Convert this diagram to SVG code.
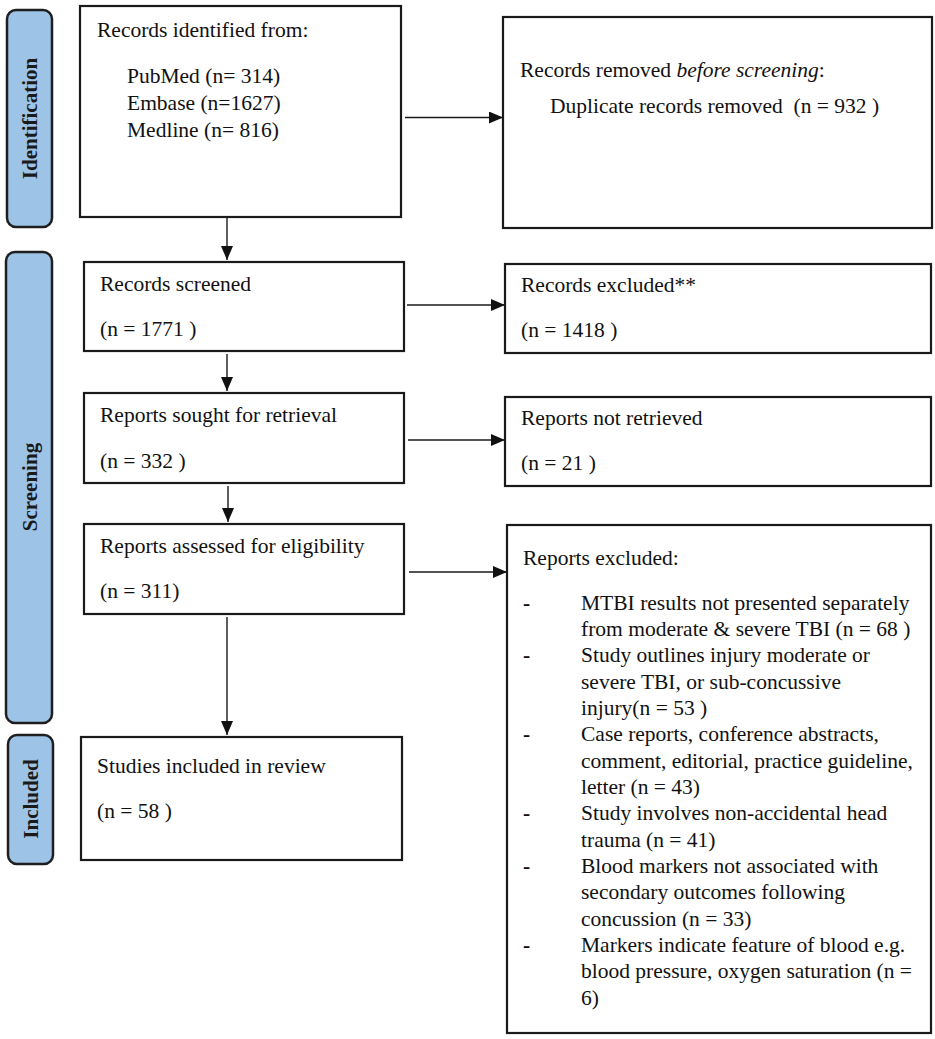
<svg xmlns="http://www.w3.org/2000/svg" width="935" height="1039" viewBox="0 0 935 1039">
<style>
.bg{fill:#ffffff}
.box{fill:#ffffff;stroke:#1a1a1a;stroke-width:2.2}
.pill{fill:#9dc3e6;stroke:#1f1f1f;stroke-width:2.5}
.t{font-family:"Liberation Serif","Times New Roman",serif;font-size:21.5px;fill:#111111}
.pt{font-family:"Liberation Serif","Times New Roman",serif;font-size:21px;font-weight:bold;fill:#1a1a1a;text-anchor:middle;dominant-baseline:central}
.c{stroke:#1a1a1a;stroke-width:1.4;fill:none}
</style>
<defs>
<marker id="ah" markerUnits="userSpaceOnUse" markerWidth="14" markerHeight="12" refX="14" refY="6" orient="auto">
<path d="M0,0 L14,6 L0,12 Z" fill="#111111"/>
</marker>
</defs>
<rect class="bg" x="0" y="0" width="935" height="1039"/>

<g id="phase-identification">
<rect class="pill" x="7" y="10" width="45" height="217" rx="9"/>
<text class="pt" transform="translate(30,118.5) rotate(-90)">Identification</text>
</g>
<g id="phase-screening">
<rect class="pill" x="6" y="252" width="46" height="471" rx="9"/>
<text class="pt" transform="translate(30,487) rotate(-90)">Screening</text>
</g>
<g id="phase-included">
<rect class="pill" x="8" y="735" width="45" height="129" rx="9"/>
<text class="pt" transform="translate(31,799) rotate(-90)">Included</text>
</g>

<g id="node-identified">
<rect class="box" x="80" y="6" width="321" height="211"/>
<text class="t" x="97" y="37">Records identified from:</text>
<text class="t" x="127" y="83">PubMed (n= 314)</text>
<text class="t" x="127" y="110">Embase (n=1627)</text>
<text class="t" x="127" y="137">Medline (n= 816)</text>
</g>
<g id="node-removed">
<rect class="box" x="503" y="17" width="429" height="211"/>
<text class="t" x="520" y="77">Records removed <tspan font-style="italic">before screening</tspan>:</text>
<text class="t" x="550" y="113" xml:space="preserve">Duplicate records removed  (n = 932 )</text>
</g>
<g id="node-screened">
<rect class="box" x="84" y="262" width="320" height="89"/>
<text class="t" x="100" y="291">Records screened</text>
<text class="t" x="100" y="336">(n = 1771 )</text>
</g>
<g id="node-excluded">
<rect class="box" x="505" y="264" width="426" height="89"/>
<text class="t" x="521" y="292">Records excluded**</text>
<text class="t" x="521" y="337">(n = 1418 )</text>
</g>
<g id="node-sought">
<rect class="box" x="84" y="393" width="320" height="90"/>
<text class="t" x="100" y="422">Reports sought for retrieval</text>
<text class="t" x="100" y="468">(n = 332 )</text>
</g>
<g id="node-notretrieved">
<rect class="box" x="505" y="397" width="426" height="89"/>
<text class="t" x="521" y="425">Reports not retrieved</text>
<text class="t" x="521" y="470">(n = 21 )</text>
</g>
<g id="node-assessed">
<rect class="box" x="84" y="524" width="320" height="90"/>
<text class="t" x="100" y="553">Reports assessed for eligibility</text>
<text class="t" x="100" y="598">(n = 311)</text>
</g>
<g id="node-reportsexcluded">
<rect class="box" x="507" y="525" width="424" height="508"/>
<text class="t" x="523" y="565">Reports excluded:</text>
<g class="t">
<text x="523" y="609.7" font-weight="bold">-</text>
<text x="581" y="609.7">MTBI results not presented separately</text>
<text x="581" y="636">from moderate &amp; severe TBI (n = 68 )</text>
<text x="523" y="662.3" font-weight="bold">-</text>
<text x="581" y="662.3">Study outlines injury moderate or</text>
<text x="581" y="688.6">severe TBI, or sub-concussive</text>
<text x="581" y="715">injury(n = 53 )</text>
<text x="523" y="741.3" font-weight="bold">-</text>
<text x="581" y="741.3">Case reports, conference abstracts,</text>
<text x="581" y="767.6">comment, editorial, practice guideline,</text>
<text x="581" y="794">letter (n = 43)</text>
<text x="523" y="820.3" font-weight="bold">-</text>
<text x="581" y="820.3">Study involves non-accidental head</text>
<text x="581" y="846.6">trauma (n = 41)</text>
<text x="523" y="873" font-weight="bold">-</text>
<text x="581" y="873">Blood markers not associated with</text>
<text x="581" y="899.3">secondary outcomes following</text>
<text x="581" y="925.6">concussion (n = 33)</text>
<text x="523" y="952" font-weight="bold">-</text>
<text x="581" y="952">Markers indicate feature of blood e.g.</text>
<text x="581" y="978.3">blood pressure, oxygen saturation (n =</text>
<text x="581" y="1004.6">6)</text>
</g>
</g>
<g id="node-included">
<rect class="box" x="81" y="737" width="321" height="123"/>
<text class="t" x="97" y="773">Studies included in review</text>
<text class="t" x="97" y="818">(n = 58 )</text>
</g>

<g id="connectors">
<line class="c" x1="405" y1="117.5" x2="503" y2="117.5" marker-end="url(#ah)"/>
<line class="c" x1="227" y1="218" x2="227" y2="260" marker-end="url(#ah)"/>
<line class="c" x1="407" y1="305" x2="505" y2="305" marker-end="url(#ah)"/>
<line class="c" x1="227" y1="354" x2="227" y2="391" marker-end="url(#ah)"/>
<line class="c" x1="408" y1="440" x2="505" y2="440" marker-end="url(#ah)"/>
<line class="c" x1="228" y1="486" x2="228" y2="522" marker-end="url(#ah)"/>
<line class="c" x1="409" y1="572" x2="507" y2="572" marker-end="url(#ah)"/>
<line class="c" x1="227" y1="617" x2="227" y2="735" marker-end="url(#ah)"/>
</g>
</svg>
